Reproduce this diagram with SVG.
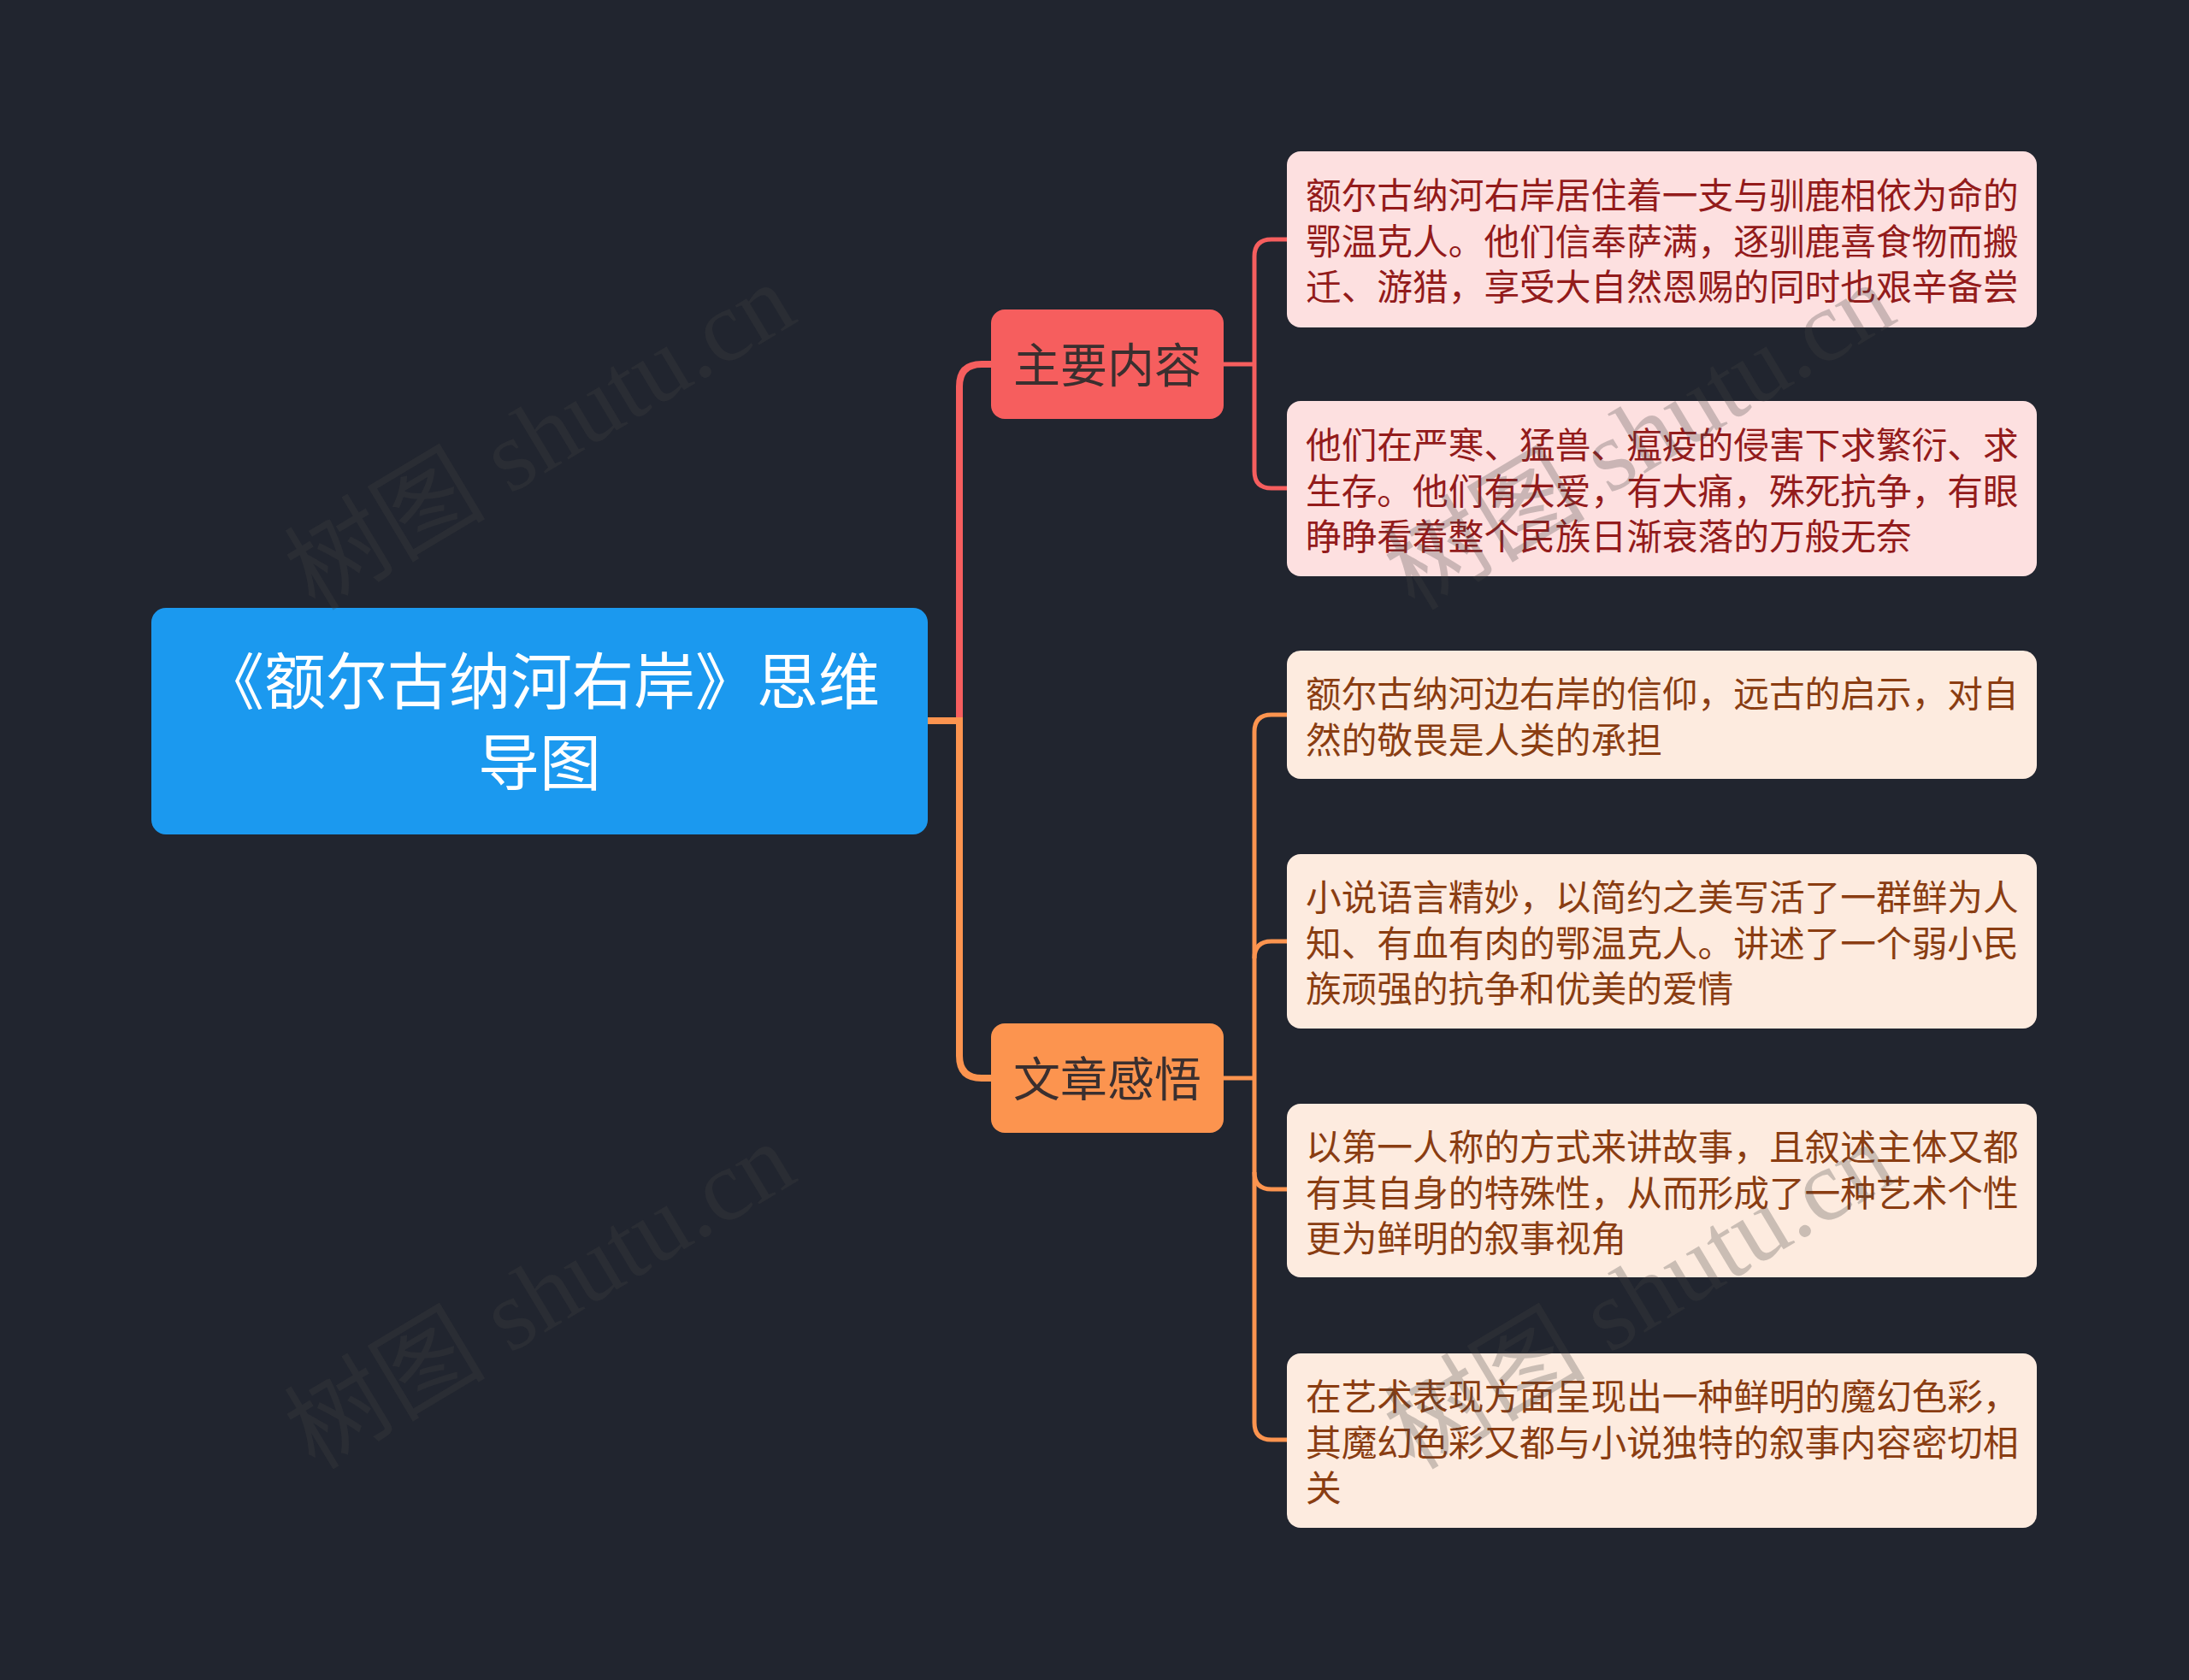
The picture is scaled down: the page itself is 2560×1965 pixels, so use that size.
<svg xmlns="http://www.w3.org/2000/svg" width="2560" height="1965" viewBox="0 0 2560 1965">
<style>
.cjk{font-family:"Noto Sans CJK SC","Noto Sans",sans-serif}
.root-t{font-size:72px;fill:#ffffff;text-anchor:middle}
.br-t{font-size:55px;fill:#3a2f2f;text-anchor:middle}
.leaf-r{fill:#fde0e0}
.leaf-o{fill:#fdebdf}
.lt-r{font-size:41.7px;fill:#931b1b}
.lt-o{font-size:41.7px;fill:#8a3d12}
.c-red{fill:none;stroke:#f65e5e;stroke-width:8}
.c-org{fill:none;stroke:#fc944f;stroke-width:8}
.l-red{fill:none;stroke:#f65e5e;stroke-width:5}
.l-org{fill:none;stroke:#fc944f;stroke-width:5}
.wm{font-family:"Liberation Serif","Noto Sans CJK SC",serif;font-size:118px;fill:#444444;fill-opacity:0.27;text-anchor:middle}
</style>
<rect x="0" y="0" width="2560" height="1965" fill="#21252f"/>

<g id="connectors">
<path class="c-red" d="M1085,843 H1122 V452 Q1122,426 1148,426 H1160"/>
<path class="c-org" d="M1085,843 H1122 V1235 Q1122,1261 1148,1261 H1160"/>
<path class="l-red" d="M1430,426 H1467"/>
<path class="l-red" d="M1506,280 H1487 Q1467,280 1467,300 V551 Q1467,571 1487,571 H1506"/>
<path class="l-org" d="M1430,1261 H1467"/>
<path class="l-org" d="M1506,836 H1487 Q1467,836 1467,856 V1664 Q1467,1684 1487,1684 H1506"/>
<path class="l-org" d="M1467,1121 Q1467,1101 1487,1101 H1506"/>
<path class="l-org" d="M1467,1371 Q1467,1391 1487,1391 H1506"/>
</g>

<g id="root">
<rect x="177" y="711" width="908" height="265" rx="17" fill="#1b99ef"/>
<text class="cjk root-t" x="633" y="823">《额尔古纳河右岸》思维</text>
<text class="cjk root-t" x="631" y="918">导图</text>
</g>

<g id="branch-main">
<rect x="1159" y="362" width="272" height="128" rx="16" fill="#f65e5e"/>
<text class="cjk br-t" x="1295" y="447">主要内容</text>
</g>

<g id="branch-feel">
<rect x="1159" y="1197" width="272" height="128" rx="16" fill="#fc944f"/>
<text class="cjk br-t" x="1295" y="1282">文章感悟</text>
</g>

<g id="leaf1">
<rect class="leaf-r" x="1505" y="177" width="877" height="206" rx="16"/>
<text class="cjk lt-r" x="1527"><tspan x="1527" y="244">额尔古纳河右岸居住着一支与驯鹿相依为命的</tspan><tspan x="1527" y="297.5">鄂温克人。他们信奉萨满，逐驯鹿喜食物而搬</tspan><tspan x="1527" y="351">迁、游猎，享受大自然恩赐的同时也艰辛备尝</tspan></text>
</g>

<g id="leaf2">
<rect class="leaf-r" x="1505" y="469" width="877" height="205" rx="16"/>
<text class="cjk lt-r" x="1527"><tspan x="1527" y="536">他们在严寒、猛兽、瘟疫的侵害下求繁衍、求</tspan><tspan x="1527" y="589.5">生存。他们有大爱，有大痛，殊死抗争，有眼</tspan><tspan x="1527" y="643">睁睁看着整个民族日渐衰落的万般无奈</tspan></text>
</g>

<g id="leaf3">
<rect class="leaf-o" x="1505" y="761" width="877" height="150" rx="16"/>
<text class="cjk lt-o" x="1527"><tspan x="1527" y="827">额尔古纳河边右岸的信仰，远古的启示，对自</tspan><tspan x="1527" y="880.5">然的敬畏是人类的承担</tspan></text>
</g>

<g id="leaf4">
<rect class="leaf-o" x="1505" y="999" width="877" height="204" rx="16"/>
<text class="cjk lt-o" x="1527"><tspan x="1527" y="1065">小说语言精妙，以简约之美写活了一群鲜为人</tspan><tspan x="1527" y="1118.5">知、有血有肉的鄂温克人。讲述了一个弱小民</tspan><tspan x="1527" y="1172">族顽强的抗争和优美的爱情</tspan></text>
</g>

<g id="leaf5">
<rect class="leaf-o" x="1505" y="1291" width="877" height="203" rx="16"/>
<text class="cjk lt-o" x="1527"><tspan x="1527" y="1357">以第一人称的方式来讲故事，且叙述主体又都</tspan><tspan x="1527" y="1410.5">有其自身的特殊性，从而形成了一种艺术个性</tspan><tspan x="1527" y="1464">更为鲜明的叙事视角</tspan></text>
</g>

<g id="leaf6">
<rect class="leaf-o" x="1505" y="1583" width="877" height="204" rx="16"/>
<text class="cjk lt-o" x="1527"><tspan x="1527" y="1649">在艺术表现方面呈现出一种鲜明的魔幻色彩，</tspan><tspan x="1527" y="1702.5">其魔幻色彩又都与小说独特的叙事内容密切相</tspan><tspan x="1527" y="1756">关</tspan></text>
</g>

<g id="watermarks">
<text class="wm" transform="translate(652,545) rotate(-31)">树图 shutu.cn</text>
<text class="wm" transform="translate(1938,545) rotate(-31)">树图 shutu.cn</text>
<text class="wm" transform="translate(652,1550) rotate(-31)">树图 shutu.cn</text>
<text class="wm" transform="translate(1938,1550) rotate(-31)">树图 shutu.cn</text>
</g>
</svg>
